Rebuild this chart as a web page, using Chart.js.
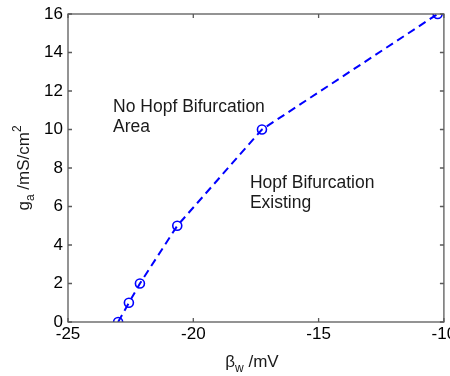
<!DOCTYPE html>
<html>
<head>
<meta charset="utf-8">
<script src="https://cdn.jsdelivr.net/npm/chart.js@4"></script>
<style>
html,body{margin:0;padding:0;background:#fff;}
#wrap{width:450px;height:376px;}
</style>
</head>
<body>
<div id="wrap"><canvas id="c" width="450" height="376"></canvas></div>
<script>
const betaW = [-23.0, -22.57, -22.13, -20.64, -17.26, -10.25];
const gA = [0, 1, 2, 5, 10, 16];
const xTicks = [-25, -20, -15, -10];
const yTicks = [0, 2, 4, 6, 8, 10, 12, 14, 16];
const notes = [
  {x: -23.2, y: 10.9, lines: ['No Hopf Bifurcation', 'Area']},
  {x: -17.74, y: 6.96, lines: ['Hopf Bifurcation', 'Existing']}
];

const FONT = '"Liberation Sans", Arial, sans-serif';
const AXC = '#5a5a5a';

const decor = {
  id: 'decor',
  afterDraw(chart) {
    const ctx = chart.ctx;
    const a = chart.chartArea;
    const xs = chart.scales.x, ys = chart.scales.y;
    ctx.save();
    // box
    ctx.strokeStyle = AXC;
    ctx.lineWidth = 1.3;
    ctx.strokeRect(a.left, a.top, a.right - a.left, a.bottom - a.top);
    // inward ticks
    ctx.beginPath();
    xTicks.forEach(v => {
      const px = xs.getPixelForValue(v);
      ctx.moveTo(px, a.bottom); ctx.lineTo(px, a.bottom - 4);
      ctx.moveTo(px, a.top); ctx.lineTo(px, a.top + 4);
    });
    yTicks.forEach(v => {
      const py = ys.getPixelForValue(v);
      ctx.moveTo(a.left, py); ctx.lineTo(a.left + 4, py);
      ctx.moveTo(a.right, py); ctx.lineTo(a.right - 4, py);
    });
    ctx.stroke();

    // annotations
    ctx.fillStyle = '#1a1a1a';
    ctx.font = '17.5px ' + FONT;
    ctx.textAlign = 'left';
    ctx.textBaseline = 'alphabetic';
    notes.forEach(n => {
      const px = xs.getPixelForValue(n.x);
      const py = ys.getPixelForValue(n.y);
      n.lines.forEach((t, i) => ctx.fillText(t, px, py + i * 20));
    });

    // x title: beta_w /mV
    const big = '17px ' + FONT, small = '12px ' + FONT;
    const xparts = [
      {t: 'β', f: big, dy: 0},
      {t: 'w', f: small, dy: 5},
      {t: ' /mV', f: big, dy: 0}
    ];
    const drawParts = (parts, cx, base) => {
      let w = 0;
      parts.forEach(p => { ctx.font = p.f; p.w = ctx.measureText(p.t).width; w += p.w; });
      let x = cx - w / 2;
      parts.forEach(p => { ctx.font = p.f; ctx.fillText(p.t, x, base + p.dy); x += p.w; });
    };
    drawParts(xparts, (a.left + a.right) / 2 - 4, 367);

    // y title: g_a /mS/cm^2
    ctx.save();
    ctx.translate(28.5, (a.top + a.bottom) / 2);
    ctx.rotate(-Math.PI / 2);
    const yparts = [
      {t: 'g', f: big, dy: 0},
      {t: 'a', f: small, dy: 5},
      {t: ' /mS/cm', f: big, dy: 0},
      {t: '2', f: small, dy: -8}
    ];
    drawParts(yparts, 0, 0);
    ctx.restore();
    ctx.restore();
  }
};

function fitY(scale) {
  scale.width = 68;
  scale.paddingTop = 0; scale.paddingBottom = 0;
  scale.paddingLeft = 0; scale.paddingRight = 0;
}
function fitX(scale) {
  scale.height = 54;
  scale.paddingTop = 0; scale.paddingBottom = 0;
  scale.paddingLeft = 0; scale.paddingRight = 0;
}

new Chart(document.getElementById('c'), {
  type: 'scatter',
  data: {
    datasets: [{
      data: betaW.map((x, i) => ({x: x, y: gA[i]})),
      showLine: true,
      borderColor: '#0000ff',
      borderWidth: 2,
      borderDash: [8, 5],
      pointStyle: 'circle',
      pointRadius: 4.5,
      pointBorderWidth: 1.6,
      pointBorderColor: '#0000ff',
      pointBackgroundColor: 'rgba(0,0,0,0)',
      tension: 0
    }]
  },
  plugins: [decor],
  options: {
    responsive: false,
    animation: false,
    events: [],
    layout: {padding: {top: 14, right: 6, left: 0, bottom: 0}},
    plugins: {legend: {display: false}, tooltip: {enabled: false}},
    scales: {
      x: {
        type: 'linear', min: -25, max: -10,
        afterFit: fitX,
        afterBuildTicks: s => { s.ticks = xTicks.map(v => ({value: v})); },
        grid: {display: false, drawTicks: false},
        border: {display: false},
        ticks: {color: '#000', font: {family: FONT, size: 17}, padding: 2, maxRotation: 0, autoSkip: false}
      },
      y: {
        type: 'linear', min: 0, max: 16,
        afterFit: fitY,
        afterBuildTicks: s => { s.ticks = yTicks.map(v => ({value: v})); },
        grid: {display: false, drawTicks: false},
        border: {display: false},
        ticks: {color: '#000', font: {family: FONT, size: 17}, padding: 5, autoSkip: false}
      }
    }
  }
});
</script>
</body>
</html>
